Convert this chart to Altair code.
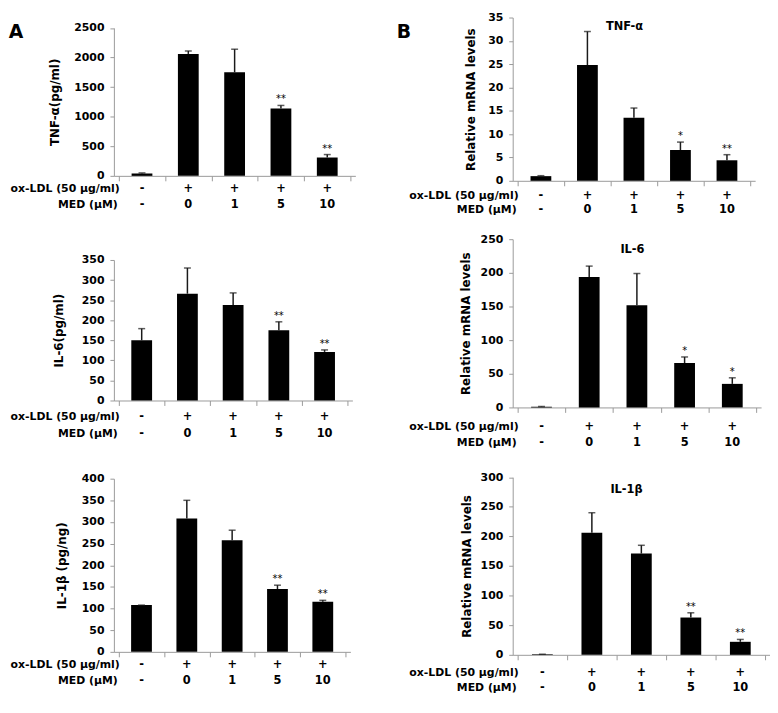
import altair as alt
import pandas as pd

# ---- data ----
POS = [0.5, 1.5, 2.5, 3.5, 4.5]
OXLDL = ["-", "+", "+", "+", "+"]
MED = ["-", "0", "1", "5", "10"]

A_TNF = [40, 2060, 1750, 1140, 310]
A_TNF_ERR = [10, 50, 390, 50, 50]
A_TNF_STAR = ["", "", "", "**", "**"]

A_IL6 = [150, 266, 238, 175, 121]
A_IL6_ERR = [29, 64, 30, 21, 5]
A_IL6_STAR = ["", "", "", "**", "**"]

A_IL1B = [108, 308, 258, 145, 116]
A_IL1B_ERR = [0, 42, 23, 9, 3]
A_IL1B_STAR = ["", "", "", "**", "**"]

B_TNF = [1.0, 24.8, 13.5, 6.6, 4.4]
B_TNF_ERR = [0.1, 7.2, 2.1, 1.7, 1.2]
B_TNF_STAR = ["", "", "", "*", "**"]

B_IL6 = [1, 194, 152, 66, 35]
B_IL6_ERR = [0.5, 16, 47, 9, 9]
B_IL6_STAR = ["", "", "", "*", "*"]

B_IL1B = [1, 206, 171, 63, 22]
B_IL1B_ERR = [0, 34, 14, 8, 4]
B_IL1B_STAR = ["", "", "", "**", "**"]

HEADERS = ["ox-LDL (50 μg/ml)", "MED (μM)"]

FONT = "DejaVu Sans"
GRAY = "#9a9a9a"


def panel(vals, errs, stars, ytitle, ymax, ystep, W, H, bottom, top, titleX,
          ox_dy, med_dy, title=None, title_xy=None, letter=None, letter_xy=None):
    df = pd.DataFrame({
        "pos": POS,
        "val": vals,
        "top": [v + e for v, e in zip(vals, errs)],
        "star": stars,
        "ox": OXLDL,
        "med": MED,
    })
    xaxis = alt.Axis(values=[0, 1, 2, 3, 4, 5], labels=False, title=None, grid=False,
                     tickSize=5, tickColor=GRAY, domainColor=GRAY, offset=bottom - H)
    xscale = alt.Scale(domain=[0, 5], nice=False, zero=False)
    yaxis = alt.Axis(values=list(range(0, ymax + 1, ystep)), format="d", title=ytitle,
                     titleX=titleX, titleBaseline="middle", titleFont=FONT,
                     titleFontSize=12, titleFontWeight="bold", titleColor="black",
                     grid=False, tickSize=4, tickColor=GRAY, domainColor=GRAY,
                     labelPadding=6, labelFont=FONT, labelFontSize=11,
                     labelFontWeight="bold", labelColor="black",
                     labelFlush=False, labelOverlap=False)
    yscale = alt.Scale(domain=[0, ymax], range=[bottom, top], nice=False)
    X = alt.X("pos:Q", scale=xscale, axis=xaxis)
    base = alt.Chart(df)
    bars = base.mark_bar(size=21, color="black").encode(
        x=X, y=alt.Y("val:Q", scale=yscale, axis=yaxis))
    rule = base.mark_rule(color="#1a1a1a", strokeWidth=1.5).encode(
        x=X, y=alt.Y("val:Q", scale=yscale, axis=yaxis), y2="top:Q")
    cap = base.mark_tick(orient="horizontal", size=7, thickness=1.5, color="#1a1a1a").encode(
        x=X, y=alt.Y("top:Q", scale=yscale, axis=yaxis))
    star = base.mark_text(font=FONT, fontSize=10, dy=-3, baseline="alphabetic",
                          color="black").encode(
        x=X, y=alt.Y("top:Q", scale=yscale, axis=yaxis), text="star:N")
    oxt = base.mark_text(font=FONT, fontSize=11.5, fontWeight="bold", baseline="middle",
                         color="black").encode(
        x=X, y=alt.value(bottom + ox_dy), text="ox:N")
    medt = base.mark_text(font=FONT, fontSize=11.5, fontWeight="bold", baseline="middle",
                          color="black").encode(
        x=X, y=alt.value(bottom + med_dy), text="med:N")
    head1 = alt.Chart(pd.DataFrame({"t": [HEADERS[0]]})).mark_text(
        font=FONT, fontSize=11, fontWeight="bold", align="right", baseline="middle",
        color="black").encode(x=alt.value(6), y=alt.value(bottom + ox_dy), text="t:N")
    head2 = alt.Chart(pd.DataFrame({"t": [HEADERS[1]]})).mark_text(
        font=FONT, fontSize=11, fontWeight="bold", align="right", baseline="middle",
        color="black").encode(x=alt.value(4), y=alt.value(bottom + med_dy), text="t:N")
    layers = [bars, rule, cap, star, oxt, medt, head1, head2]
    if title is not None:
        layers.append(alt.Chart(pd.DataFrame({"t": [title]})).mark_text(
            font=FONT, fontSize=11.5, fontWeight="bold", baseline="middle",
            color="black").encode(x=alt.value(title_xy[0]), y=alt.value(title_xy[1]),
                                  text="t:N"))
    if letter is not None:
        layers.append(alt.Chart(pd.DataFrame({"t": [letter]})).mark_text(
            font=FONT, fontSize=19, fontWeight="bold", baseline="middle",
            color="black").encode(x=alt.value(letter_xy[0]), y=alt.value(letter_xy[1]),
                                  text="t:N"))
    return alt.layer(*layers).properties(width=W, height=H)


a1 = panel(A_TNF, A_TNF_ERR, A_TNF_STAR, "TNF-α(pg/ml)", 2500, 500,
           244, 165, 160, 10.5, -60, 13.5, 29.5, letter="A", letter_xy=(-99, 14.4))
b1 = panel(B_TNF, B_TNF_ERR, B_TNF_STAR, "Relative mRNA levels", 35, 5,
           245, 165, 165, 0, -43, 15, 30, title="TNF-α", title_xy=(113, 9.5),
           letter="B", letter_xy=(-110, 14.4))
a2 = panel(A_IL6, A_IL6_ERR, A_IL6_STAR, "IL-6(pg/ml)", 350, 50,
           241, 229, 222, 80, -56, 17, 34)
b2 = panel(B_IL6, B_IL6_ERR, B_IL6_STAR, "Relative mRNA levels", 251 - 1, 50,
           251, 229, 229, 59, -48, 20, 36, title="IL-6", title_xy=(121, 70))
a3 = panel(A_IL1B, A_IL1B_ERR, A_IL1B_STAR, "IL-1β (pg/ng)", 400, 50,
           239, 250, 247, 72, -53, 13.5, 29.5)
b3 = panel(B_IL1B, B_IL1B_ERR, B_IL1B_STAR, "Relative mRNA levels", 300, 50,
           260, 250, 250, 70.5, -47, 18, 34, title="IL-1β", title_xy=(115, 83))

chart = alt.concat(a1, b1, a2, b2, a3, b3, columns=2,
                   spacing={"row": 0, "column": 159}, bounds="flush").properties(
    padding=0).configure_view(stroke=None)

chart.save("out.html", embed_options={"renderer": "svg", "actions": False})
